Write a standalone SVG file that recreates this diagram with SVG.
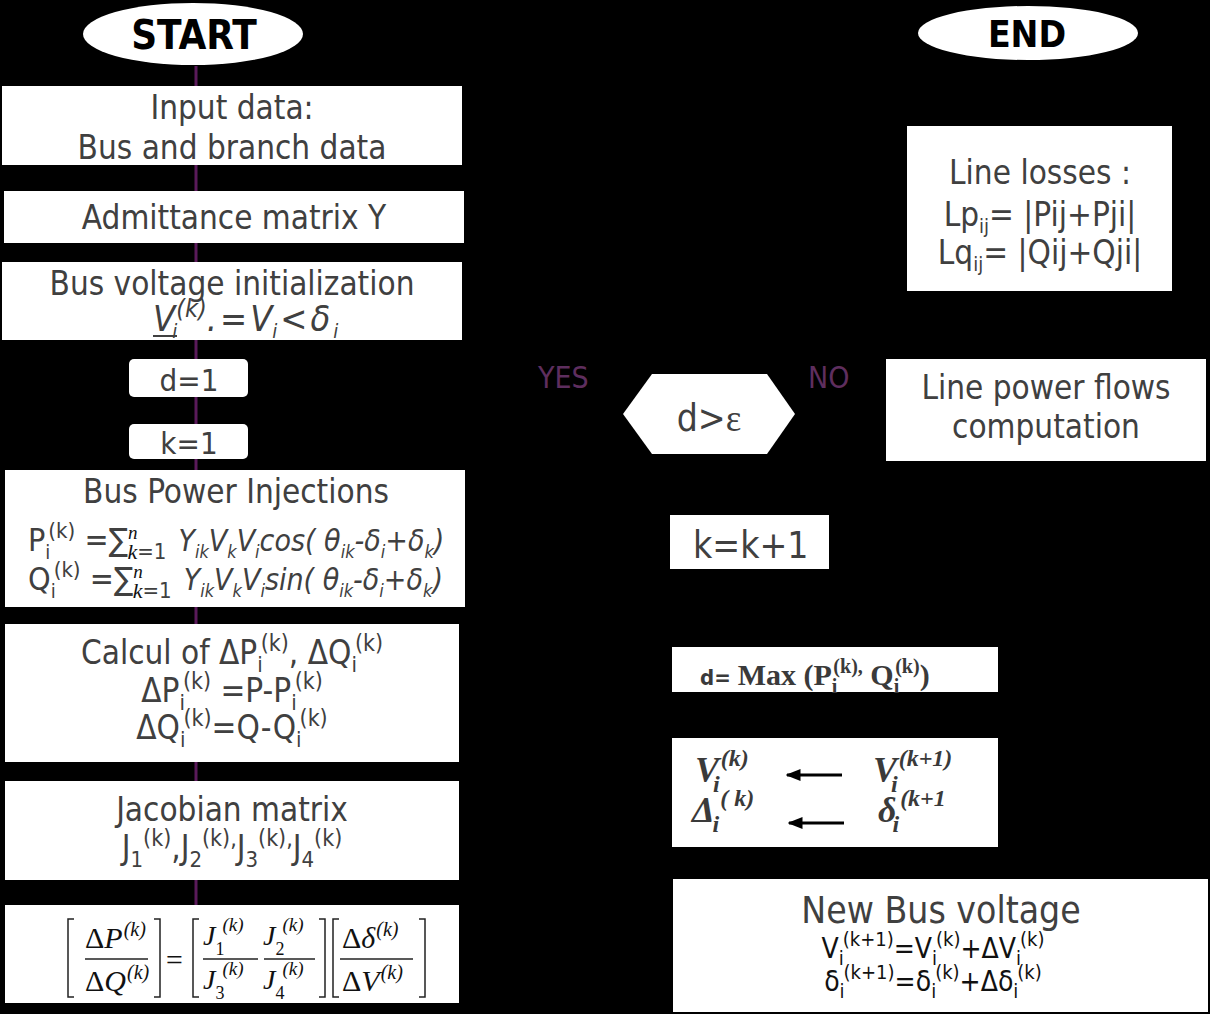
<svg xmlns="http://www.w3.org/2000/svg" width="1210" height="1014" viewBox="0 0 1210 1014" font-size="33">
<defs>
<style>
.bg{fill:#000}
.box{fill:#fff}
.t{font-family:"DejaVu Sans Condensed","DejaVu Sans",sans-serif;font-stretch:condensed;fill:#404040}
.c{text-anchor:middle}
.it{font-style:italic}
.b{font-weight:bold;fill:#000}
.lbl{font-family:"DejaVu Sans Condensed","DejaVu Sans",sans-serif;font-stretch:condensed;fill:#5e2e5e;font-size:30px}
.m{font-family:"Liberation Serif","DejaVu Serif",serif;font-style:italic;fill:#111}
.mb{font-family:"Liberation Serif","DejaVu Serif",serif;font-weight:bold;fill:#3a3a3a}
.f{font-family:"DejaVu Sans Condensed","DejaVu Sans",sans-serif;font-stretch:condensed;fill:#111;font-size:28px}
.brk{fill:none;stroke:#222;stroke-width:1.5}
.bar{stroke:#222;stroke-width:1.5}
.flow{stroke:#5a1a5a;stroke-width:3;fill:none}
.dark{stroke:#000;stroke-width:2;fill:none}
</style>
<marker id="ah" viewBox="0 0 10 10" refX="9" refY="5" markerWidth="6" markerHeight="6" orient="auto"><path d="M0,0 L10,5 L0,10 z" fill="#000"/></marker>
<marker id="ahb" viewBox="0 0 10 10" refX="9" refY="5" markerWidth="5" markerHeight="5" orient="auto"><path d="M0,1 L10,5 L0,9 z" fill="#000"/></marker>
</defs>
<rect class="bg" x="0" y="0" width="1210" height="1014"/>

<g id="connectors">
<line class="flow" x1="196" y1="66" x2="196" y2="905"/>
<line class="dark" x1="795" y1="414" x2="886" y2="414" marker-end="url(#ah)"/>
<line class="dark" x1="1040" y1="359" x2="1040" y2="291" marker-end="url(#ah)"/>
<line class="dark" x1="1040" y1="126" x2="1030" y2="60" marker-end="url(#ah)"/>
</g>

<g id="start">
<ellipse cx="193" cy="34" rx="110" ry="31" fill="#fff"/>
<text class="t b c" x="194" y="49" font-size="40">START</text>
</g>

<g id="input">
<rect class="box" x="2" y="86" width="460" height="79"/>
<text class="t c" x="232" y="119">Input data:</text>
<text class="t c" x="232" y="159">Bus and branch data</text>
</g>

<g id="admittance">
<rect class="box" x="4" y="191" width="460" height="52"/>
<text class="t c" x="234" y="229">Admittance matrix Y</text>
</g>

<g id="init">
<rect class="box" x="2" y="262" width="460" height="78"/>
<text class="t c" x="232" y="295">Bus voltage initialization</text>
<text class="t it" x="153" y="331" font-size="36">V<tspan font-size="20" dy="7" dx="-3">i</tspan><tspan font-size="25" dy="-21" dx="-1">(k)</tspan><tspan dy="14" letter-spacing="3">.=V</tspan><tspan font-size="20" dy="7" dx="-3">i</tspan><tspan dy="-7" letter-spacing="3" dx="3">&lt;δ</tspan><tspan font-size="20" dy="7">i</tspan></text>
<line x1="153" y1="336" x2="177" y2="336" stroke="#404040" stroke-width="2"/>
</g>

<g id="d1">
<rect class="box" x="129" y="359" width="119" height="38" rx="5"/>
<text class="t c" x="189" y="391" font-size="31">d=1</text>
</g>

<g id="k1">
<rect class="box" x="129" y="424" width="119" height="35" rx="5"/>
<text class="t c" x="189" y="454" font-size="31">k=1</text>
</g>

<g id="injections">
<rect class="box" x="5" y="470" width="460" height="137"/>
<text class="t c" x="236" y="503">Bus Power Injections</text>
<text class="t" x="28" y="551" font-size="32">P<tspan font-size="20" dy="8">i</tspan><tspan font-size="22" dy="-21" dx="-2">(k)</tspan><tspan dy="13"> =∑</tspan><tspan class="m" font-size="19" dy="-12">n</tspan><tspan class="m" font-size="22" dy="20" dx="-10">k</tspan><tspan font-size="22">=1</tspan><tspan class="it" dy="-8" dx="12" font-size="30">Y</tspan><tspan class="it" font-size="18" dy="7">ik</tspan><tspan class="it" font-size="30" dy="-7">V</tspan><tspan class="it" font-size="18" dy="7">k</tspan><tspan class="it" font-size="30" dy="-7">V</tspan><tspan class="it" font-size="18" dy="7">i</tspan><tspan class="it" font-size="30" dy="-7">cos( θ</tspan><tspan class="it" font-size="18" dy="7">ik</tspan><tspan class="it" font-size="30" dy="-7">-δ</tspan><tspan class="it" font-size="18" dy="7">i</tspan><tspan class="it" font-size="30" dy="-7">+δ</tspan><tspan class="it" font-size="18" dy="7">k</tspan><tspan class="it" font-size="30" dy="-7">)</tspan></text>
<text class="t" x="28" y="590" font-size="32">Q<tspan font-size="20" dy="8">i</tspan><tspan font-size="22" dy="-21" dx="-2">(k)</tspan><tspan dy="13"> =∑</tspan><tspan class="m" font-size="19" dy="-12">n</tspan><tspan class="m" font-size="22" dy="20" dx="-10">k</tspan><tspan font-size="22">=1</tspan><tspan class="it" dy="-8" dx="12" font-size="30">Y</tspan><tspan class="it" font-size="18" dy="7">ik</tspan><tspan class="it" font-size="30" dy="-7">V</tspan><tspan class="it" font-size="18" dy="7">k</tspan><tspan class="it" font-size="30" dy="-7">V</tspan><tspan class="it" font-size="18" dy="7">i</tspan><tspan class="it" font-size="30" dy="-7">sin( θ</tspan><tspan class="it" font-size="18" dy="7">ik</tspan><tspan class="it" font-size="30" dy="-7">-δ</tspan><tspan class="it" font-size="18" dy="7">i</tspan><tspan class="it" font-size="30" dy="-7">+δ</tspan><tspan class="it" font-size="18" dy="7">k</tspan><tspan class="it" font-size="30" dy="-7">)</tspan></text>
</g>

<g id="calcul">
<rect class="box" x="5" y="624" width="454" height="138"/>
<text class="t c" x="232" y="664">Calcul of ΔP<tspan font-size="22" dy="8">i</tspan><tspan font-size="23" dy="-21" dx="-2">(k)</tspan><tspan dy="13">, ΔQ</tspan><tspan font-size="22" dy="8">i</tspan><tspan font-size="23" dy="-21" dx="-2">(k)</tspan></text>
<text class="t c" x="232" y="702">ΔP<tspan font-size="22" dy="8">i</tspan><tspan font-size="23" dy="-21" dx="-2">(k)</tspan><tspan dy="13"> =P-P</tspan><tspan font-size="22" dy="8">i</tspan><tspan font-size="23" dy="-21" dx="-2">(k)</tspan></text>
<text class="t c" x="232" y="739">ΔQ<tspan font-size="22" dy="8">i</tspan><tspan font-size="23" dy="-21" dx="-2">(k)</tspan><tspan dy="13">=Q-Q</tspan><tspan font-size="22" dy="8">i</tspan><tspan font-size="23" dy="-21" dx="-2">(k)</tspan></text>
</g>

<g id="jacobian">
<rect class="box" x="5" y="781" width="454" height="99"/>
<text class="t c" x="232" y="821">Jacobian matrix</text>
<text class="t c" x="232" y="859">J<tspan font-size="22" dy="8">1</tspan><tspan font-size="23" dy="-21">(k)</tspan><tspan dy="13">,J</tspan><tspan font-size="22" dy="8">2</tspan><tspan font-size="23" dy="-21">(k),</tspan><tspan dy="13">J</tspan><tspan font-size="22" dy="8">3</tspan><tspan font-size="23" dy="-21">(k),</tspan><tspan dy="13">J</tspan><tspan font-size="22" dy="8">4</tspan><tspan font-size="23" dy="-21">(k)</tspan></text>
</g>

<g id="matrix">
<rect class="box" x="5" y="905" width="454" height="98"/>
<path class="brk" d="M74,919 H68 V997 H74 M154,919 H160 V997 H154"/>
<text class="m" x="85" y="948" font-size="30"><tspan font-style="normal">Δ</tspan>P<tspan font-size="20" dy="-12" dx="1">(</tspan><tspan font-size="20">k</tspan><tspan font-size="20">)</tspan></text>
<line class="bar" x1="85" y1="959" x2="148" y2="959"/>
<text class="m" x="85" y="991" font-size="30"><tspan font-style="normal">Δ</tspan>Q<tspan font-size="20" dy="-12" dx="1">(</tspan><tspan font-size="20">k</tspan><tspan font-size="20">)</tspan></text>
<text class="m" x="164" y="970" font-size="30" font-style="normal">=</text>
<path class="brk" d="M199,919 H193 V997 H199 M319,919 H325 V997 H319"/>
<text class="m" x="203" y="945" font-size="28">J<tspan font-size="18" font-style="normal" dy="10">1</tspan><tspan font-size="19" dy="-24" dx="-2">(k)</tspan></text>
<line class="bar" x1="203" y1="959" x2="258" y2="959"/>
<text class="m" x="203" y="989" font-size="28">J<tspan font-size="18" font-style="normal" dy="10">3</tspan><tspan font-size="19" dy="-24" dx="-2">(k)</tspan></text>
<text class="m" x="263" y="945" font-size="28">J<tspan font-size="18" font-style="normal" dy="10">2</tspan><tspan font-size="19" dy="-24" dx="-2">(k)</tspan></text>
<line class="bar" x1="264" y1="959" x2="315" y2="959"/>
<text class="m" x="263" y="989" font-size="28">J<tspan font-size="18" font-style="normal" dy="10">4</tspan><tspan font-size="19" dy="-24" dx="-2">(k)</tspan></text>
<path class="brk" d="M339,919 H333 V997 H339 M419,919 H425 V997 H419"/>
<text class="m" x="342" y="948" font-size="30"><tspan font-style="normal">Δ</tspan>δ<tspan font-size="20" dy="-12" dx="1">(</tspan><tspan font-size="20">k</tspan><tspan font-size="20">)</tspan></text>
<line class="bar" x1="340" y1="959" x2="413" y2="959"/>
<text class="m" x="342" y="991" font-size="30"><tspan font-style="normal">Δ</tspan>V<tspan font-size="20" dy="-12" dx="1">(</tspan><tspan font-size="20">k</tspan><tspan font-size="20">)</tspan></text>
</g>

<g id="end">
<ellipse cx="1028" cy="33" rx="110" ry="27" fill="#fff"/>
<text class="t b c" x="1027" y="47" font-size="37">END</text>
</g>

<g id="losses">
<rect class="box" x="907" y="126" width="265" height="165"/>
<text class="t c" x="1040" y="184">Line losses :</text>
<text class="t c" x="1040" y="226">Lp<tspan font-size="20" dy="7">ij</tspan><tspan dy="-7">= |Pij+Pji|</tspan></text>
<text class="t c" x="1040" y="264">Lq<tspan font-size="20" dy="7">ij</tspan><tspan dy="-7">= |Qij+Qji|</tspan></text>
</g>

<g id="yes-label"><text class="lbl" x="538" y="388">YES</text></g>
<g id="no-label"><text class="lbl" x="808" y="388">NO</text></g>

<g id="decision">
<polygon class="box" points="623,414 652,374 767,374 795,414 767,454 652,454"/>
<text class="t c" x="709" y="431" font-size="37">d&gt;<tspan font-family="Liberation Serif,serif" font-stretch="normal">ε</tspan></text>
</g>

<g id="flows">
<rect class="box" x="886" y="359" width="320" height="102"/>
<text class="t c" x="1046" y="399">Line power flows</text>
<text class="t c" x="1046" y="438">computation</text>
</g>

<g id="kinc">
<rect class="box" x="670" y="515" width="159" height="54"/>
<text class="t" x="693" y="558" font-size="37">k=k+1</text>
</g>

<g id="dmax">
<rect class="box" x="672" y="647" width="326" height="45"/>
<text x="700" y="685"><tspan class="t b" font-size="22" style="fill:#3a3a3a">d= </tspan><tspan class="mb" font-size="30">Max (P</tspan><tspan class="mb" font-size="20" dy="8">i</tspan><tspan class="mb" font-size="20" dy="-20" dx="-4">(k),</tspan><tspan class="mb" font-size="30" dy="12"> Q</tspan><tspan class="mb" font-size="20" dy="8">i</tspan><tspan class="mb" font-size="20" dy="-20" dx="-4">(k)</tspan><tspan class="mb" font-size="30" dy="12">)</tspan></text>
</g>

<g id="update">
<rect class="box" x="672" y="738" width="326" height="109"/>
<text class="mb it" x="695" y="782" font-size="36">V<tspan font-size="24" dy="10" dx="-6">i</tspan><tspan font-size="24" dy="-26" dx="1">(k)</tspan></text>
<text class="mb it" x="873" y="782" font-size="36">V<tspan font-size="24" dy="10" dx="-6">i</tspan><tspan font-size="24" dy="-26" dx="1">(k+1)</tspan></text>
<text class="mb it" x="692" y="822" font-size="36">Δ<tspan font-size="24" dy="10" dx="-2">i</tspan><tspan font-size="24" dy="-26" dx="1">( k)</tspan></text>
<text class="mb it" x="878" y="822" font-size="36">δ<tspan font-size="24" dy="10" dx="-4">i</tspan><tspan font-size="24" dy="-26" dx="1">(k+1</tspan></text>
<line x1="842" y1="775" x2="787" y2="775" stroke="#000" stroke-width="3" marker-end="url(#ahb)"/>
<line x1="844" y1="823" x2="789" y2="823" stroke="#000" stroke-width="3" marker-end="url(#ahb)"/>
</g>

<g id="newbus">
<rect class="box" x="673" y="879" width="535" height="133"/>
<text class="t c" x="941" y="923" font-size="37">New Bus voltage</text>
<text class="f c" x="933" y="958">V<tspan font-size="20" dy="7">i</tspan><tspan font-size="20" dy="-19" dx="-1">(k+1)</tspan><tspan dy="12">=V</tspan><tspan font-size="20" dy="7">i</tspan><tspan font-size="20" dy="-19" dx="-1">(k)</tspan><tspan dy="12">+ΔV</tspan><tspan font-size="20" dy="7">i</tspan><tspan font-size="20" dy="-19" dx="-1">(k)</tspan></text>
<text class="f c" x="933" y="991">δ<tspan font-size="20" dy="7">i</tspan><tspan font-size="20" dy="-19" dx="-1">(k+1)</tspan><tspan dy="12">=δ</tspan><tspan font-size="20" dy="7">i</tspan><tspan font-size="20" dy="-19" dx="-1">(k)</tspan><tspan dy="12">+Δδ</tspan><tspan font-size="20" dy="7">i</tspan><tspan font-size="20" dy="-19" dx="-1">(k)</tspan></text>
</g>
</svg>
